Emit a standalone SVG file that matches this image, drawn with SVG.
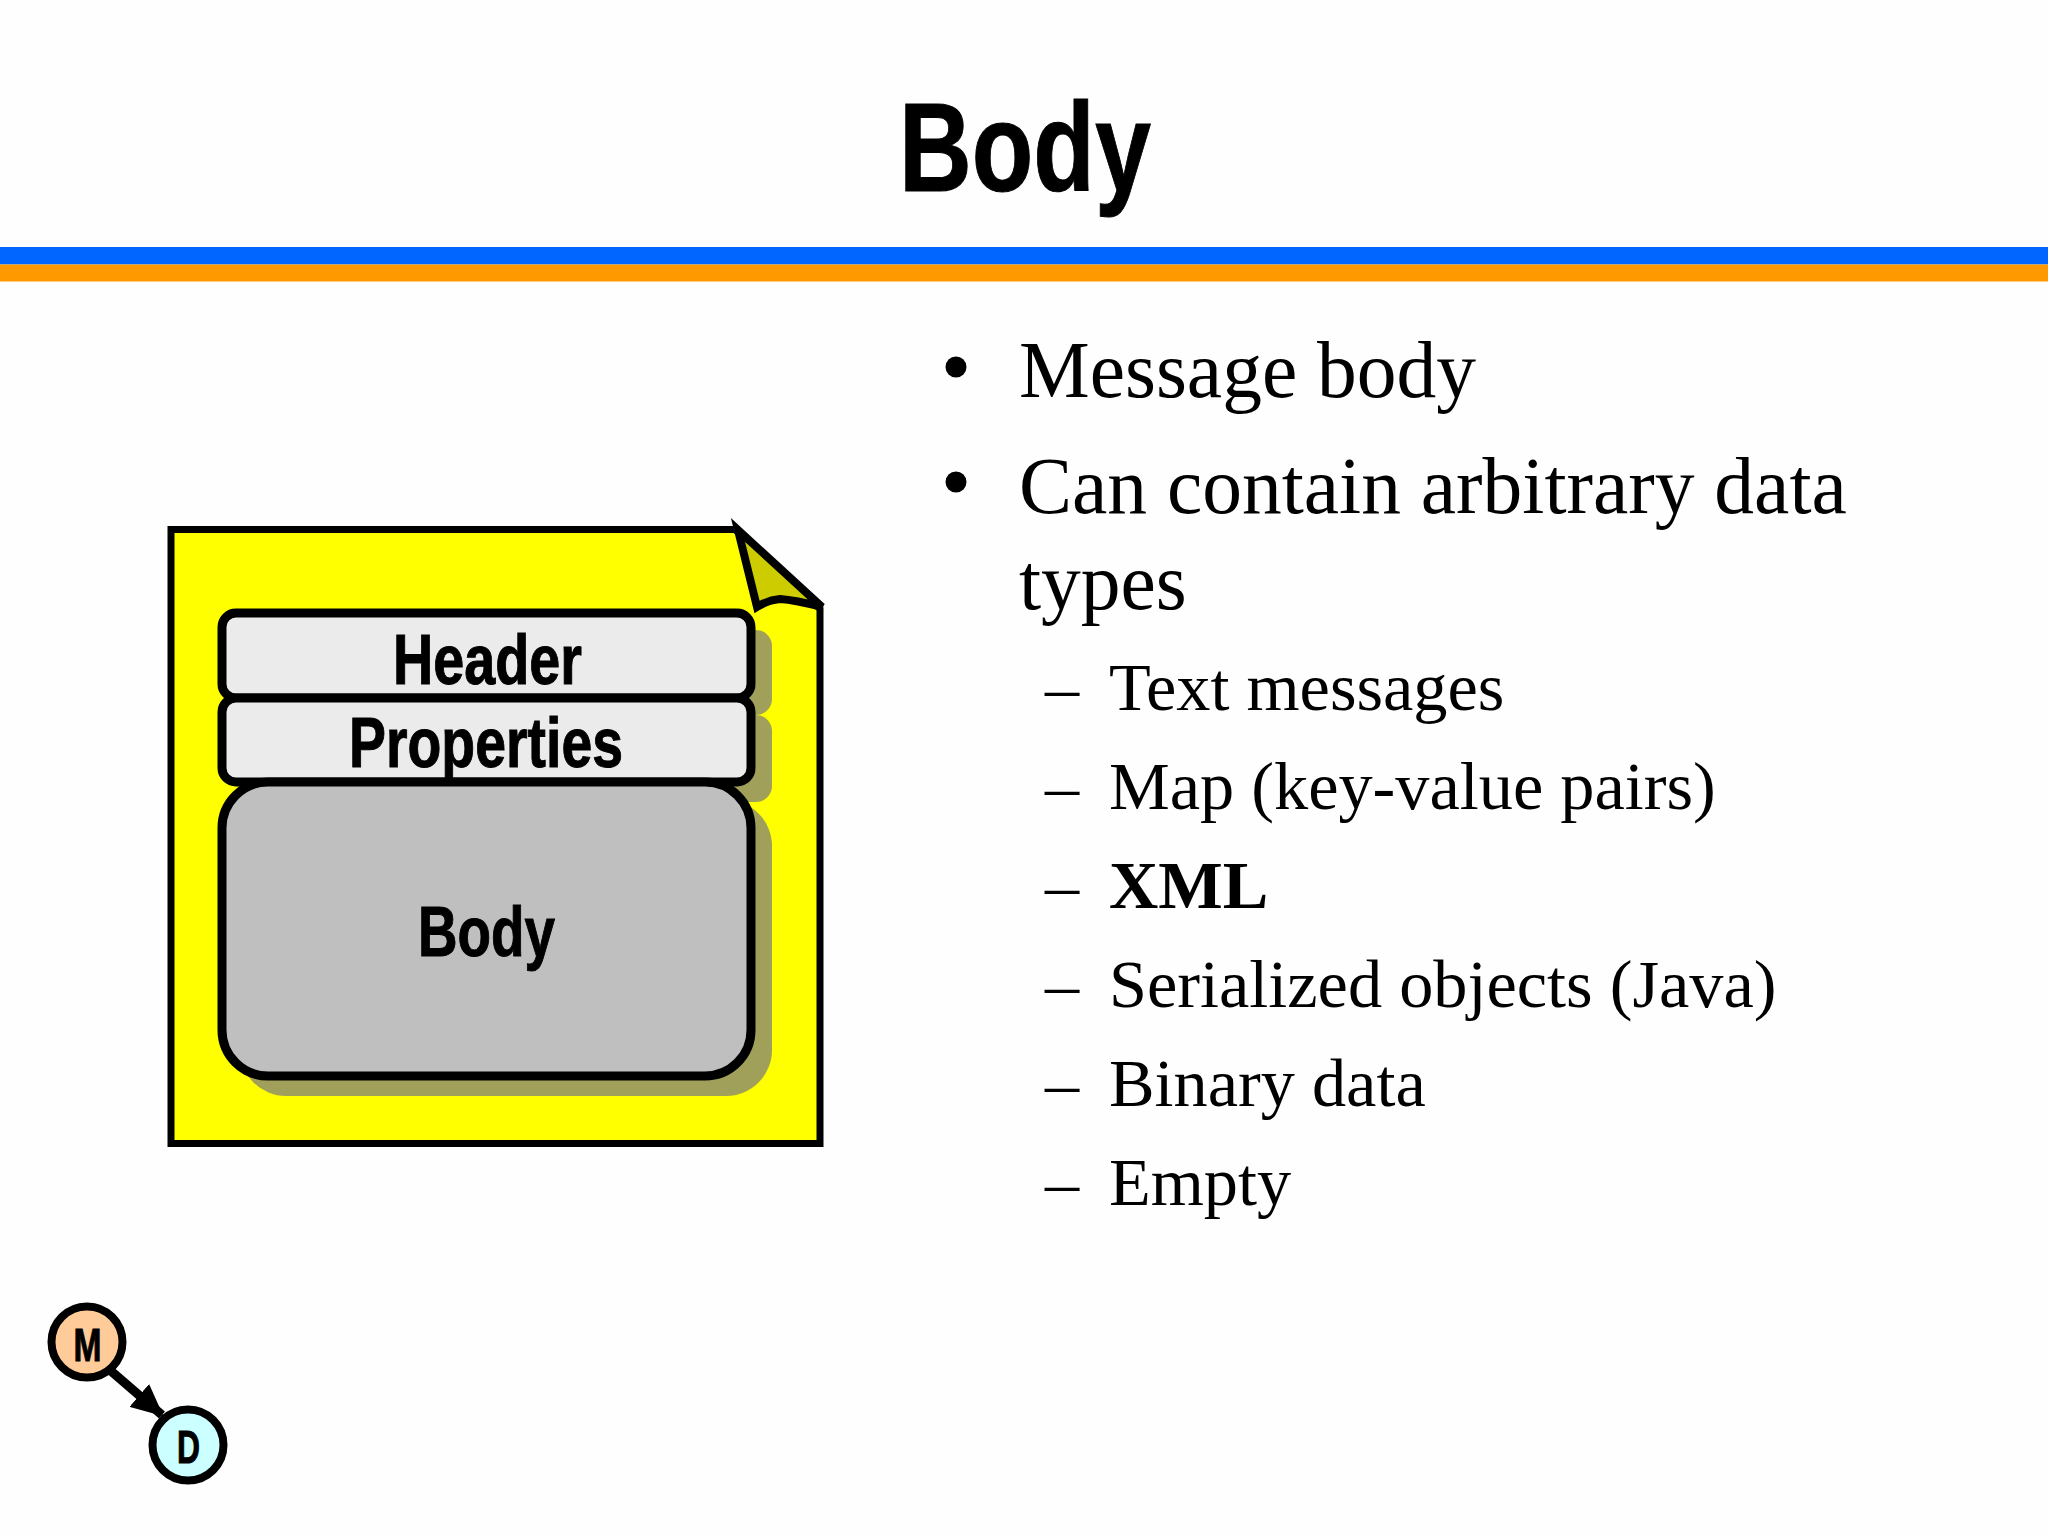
<svg xmlns="http://www.w3.org/2000/svg" width="2048" height="1536" viewBox="0 0 2048 1536">
<defs>
<style>
.s{font-family:"Liberation Sans",Arial,sans-serif;font-weight:700;fill:#000;stroke:#000;stroke-width:1}
.t{font-family:"Liberation Serif","Times New Roman",serif;fill:#000}
.l1{font-size:79.500px}
.l2{font-size:68.300px}
.box{stroke:#000;stroke-width:9;fill:#ebebeb}
.sh{fill:#a0a05a;stroke:none}
.c{stroke:#000;stroke-width:8}
</style>
<marker id="ah" markerUnits="userSpaceOnUse" markerWidth="34" markerHeight="30" refX="30" refY="15" orient="auto"><path d="M0 0L32 15L0 30Z" fill="#000"/></marker>
</defs>
<rect width="2048" height="1536" fill="#fefefe"/>
<g id="title">
<text class="s" x="899" y="191" font-size="126" textLength="252" lengthAdjust="spacingAndGlyphs">Body</text>
<rect x="0" y="247" width="2048" height="17.500" fill="#0066ff"/>
<rect x="0" y="264.500" width="2048" height="17" fill="#ff9900"/>
</g>
<g id="bullets">
<circle cx="956" cy="367" r="10.500"/>
<text class="t l1" x="1019" y="397">Message body</text>
<circle cx="956" cy="482" r="10.500"/>
<text class="t l1" x="1019" y="513">Can contain arbitrary data</text>
<text class="t l1" x="1019" y="609">types</text>
<g class="t l2">
<text x="1045" y="710">–</text><text x="1109" y="710">Text messages</text>
<text x="1045" y="809">–</text><text x="1109" y="809">Map (key-value pairs)</text>
<text x="1045" y="908">–</text><text x="1109" y="908" font-weight="700">XML</text>
<text x="1045" y="1007">–</text><text x="1109" y="1007">Serialized objects (Java)</text>
<text x="1045" y="1106">–</text><text x="1109" y="1106">Binary data</text>
<text x="1045" y="1205">–</text><text x="1109" y="1205">Empty</text>
</g>
</g>
<g id="message">
<path d="M171 529.500H735L820 609V1143.500H171Z" fill="#ffff00" stroke="#000" stroke-width="7" stroke-linejoin="miter"/>
<path d="M738 530L757 607Q768 600 780 599Q795 600 822 607Z" fill="#cccc00" stroke="#000" stroke-width="8" stroke-linejoin="miter"/>
<g id="shadows">
<rect class="sh" x="240" y="630" width="532" height="85" rx="16"/>
<rect class="sh" x="240" y="715" width="532" height="87" rx="16"/>
<rect class="sh" x="240" y="800" width="532" height="296" rx="46"/>
</g>
<g id="header"><rect class="box" x="222" y="613" width="529" height="85" rx="14"/>
<text class="s" x="393" y="684" font-size="70" textLength="189" lengthAdjust="spacingAndGlyphs">Header</text></g>
<g id="properties"><rect class="box" x="222" y="698" width="529" height="84" rx="14"/>
<text class="s" x="349" y="767" font-size="70" textLength="274" lengthAdjust="spacingAndGlyphs">Properties</text></g>
<g id="body"><rect class="box" x="222" y="782" width="529" height="294" rx="46" style="fill:#c0bfc0"/>
<text class="s" x="418" y="956" font-size="70" textLength="137" lengthAdjust="spacingAndGlyphs">Body</text></g>
</g>
<g id="connectors"><line stroke="#000" stroke-width="9" x1="111" y1="1371" x2="162" y2="1415" marker-end="url(#ah)"/></g>
<g id="m"><circle class="c" cx="87" cy="1342" r="35.500" fill="#ffcc99"/>
<text class="s" x="73.500" y="1361" font-size="46" textLength="28" lengthAdjust="spacingAndGlyphs">M</text></g>
<g id="d"><circle class="c" cx="188" cy="1445" r="35.500" fill="#ccffff"/>
<text class="s" x="177" y="1463" font-size="46" textLength="23" lengthAdjust="spacingAndGlyphs">D</text></g>
</svg>
